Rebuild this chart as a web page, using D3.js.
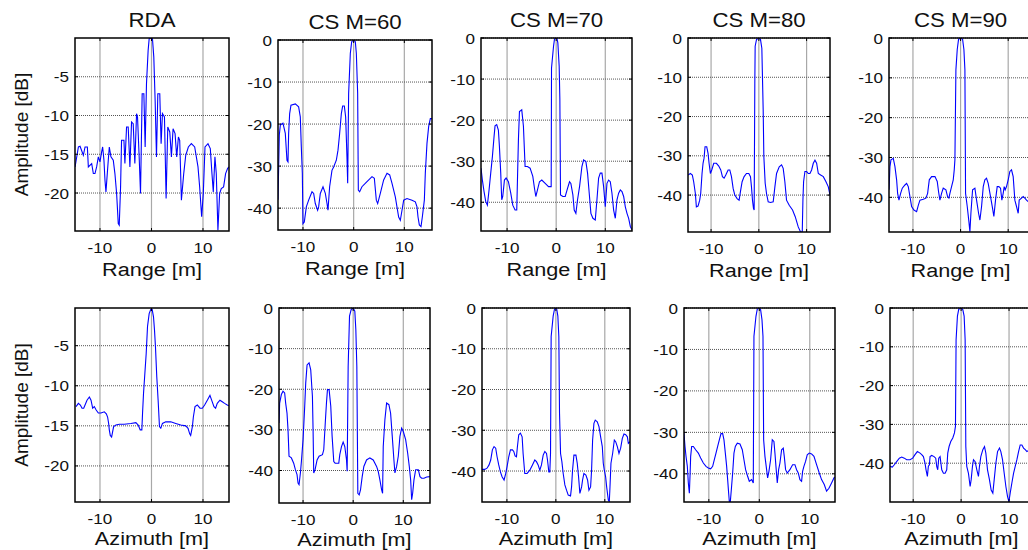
<!DOCTYPE html>
<html>
<head>
<meta charset="utf-8">
<script src="https://cdn.jsdelivr.net/npm/d3@7"></script>
<style>
  html, body { margin: 0; padding: 0; background: #fff; }
  svg { display: block; font-family: "Liberation Sans", Arial, sans-serif; }
</style>
</head>
<body>
<div id="chart"></div>
<script>
// ---- data ([position m, amplitude dB]) ----
const titles = ["RDA", "CS M=60", "CS M=70", "CS M=80", "CS M=90"];
const xLabels = ["Range [m]", "Azimuth [m]"];
const yLabel = "Amplitude [dB]";
const xTicks = [-10, 0, 10];
const yTicksRDA = [-20, -15, -10, -5];
const yTicksCS = [-40, -30, -20, -10, 0];

const rdaRange = [[-14.84,-16.63],[-14.19,-14.06],[-13.87,-13.97],[-13.23,-15.13],[-12.9,-14.06],[-12.45,-14.06],[-12.26,-16.63],[-11.61,-16.2],[-11.29,-17.49],[-10.97,-17.49],[-10.65,-16.63],[-10.32,-15.34],[-10,-15.99],[-9.68,-14.7],[-9.48,-14.06],[-9.23,-15.77],[-9.03,-18.35],[-8.84,-19.85],[-8.58,-17.49],[-8.39,-15.77],[-8.19,-14.06],[-7.87,-15.34],[-7.42,-15.77],[-7.1,-17.49],[-6.77,-20.06],[-6.45,-23.93],[-6.26,-24.14],[-6,-19.2],[-5.81,-13.2],[-5.35,-13.2],[-5.16,-16.2],[-4.84,-11.48],[-4.52,-11.48],[-4.19,-16.63],[-3.87,-10.84],[-3.55,-11.05],[-3.23,-16.2],[-2.9,-9.76],[-2.71,-10.19],[-2.39,-15.34],[-2.13,-20.06],[-1.81,-7.19],[-1.48,-7.19],[-1.23,-14.06],[-0.97,-5.9],[-0.65,-1.6],[-0.45,-0.1],[0,0],[0.19,-0.1],[0.45,-2.47],[0.71,-8.05],[0.97,-15.34],[1.23,-7.19],[1.61,-7.19],[1.87,-13.63],[2.13,-9.76],[2.52,-10.19],[2.84,-20.7],[3.16,-11.48],[3.55,-12.12],[3.87,-15.34],[4.19,-11.7],[4.58,-12.34],[4.9,-15.34],[5.23,-12.77],[5.48,-13.2],[5.81,-20.92],[6.26,-17.49],[6.65,-15.13],[7.16,-14.06],[7.74,-13.63],[8.39,-14.06],[9.03,-16.63],[9.35,-19.2],[9.74,-23.07],[10.06,-20.06],[10.39,-14.06],[10.97,-13.63],[11.42,-14.27],[11.74,-17.49],[12,-19.85],[12.32,-15.34],[12.58,-17.49],[12.9,-24.8],[13.23,-20.06],[13.55,-19.42],[14,-19.2],[14.39,-17.49],[14.77,-16.85],[15.03,-16.63]];

const cs60Range = [[-14.93,-38],[-14.67,-22.6],[-14.47,-20.2],[-13.95,-19.8],[-13.49,-22.2],[-13.16,-28.6],[-12.96,-29],[-12.83,-22.2],[-12.63,-17.5],[-12.37,-15.5],[-11.51,-15.2],[-10.86,-15.9],[-10.53,-18.3],[-10.33,-25.4],[-10.13,-31.7],[-10,-43.7],[-9.74,-43.3],[-9.34,-39.7],[-8.88,-38.1],[-8.22,-36.1],[-7.89,-36.5],[-7.57,-38.9],[-7.11,-40.5],[-6.91,-39.7],[-6.58,-36.5],[-6.05,-34.9],[-5.59,-36.5],[-5.26,-38.9],[-5.07,-40.5],[-4.74,-34.9],[-4.28,-31],[-3.95,-30.2],[-3.42,-28.6],[-3.09,-26.2],[-2.76,-22.2],[-2.43,-17.5],[-2.17,-15.7],[-1.84,-15.7],[-1.58,-18.3],[-1.32,-27.8],[-1.18,-34.1],[-0.99,-12.7],[-0.66,-3.2],[-0.39,-0.4],[0,0],[0.33,-0.4],[0.53,-3.2],[0.79,-12.7],[0.92,-35.7],[1.18,-36.1],[1.64,-34.9],[2.63,-33.7],[3.62,-32.5],[4.08,-32.9],[4.47,-38.1],[4.74,-38.9],[5.26,-36.5],[5.92,-33.3],[6.58,-31.7],[7.11,-32.1],[7.57,-34.1],[8.22,-37.3],[8.88,-42.1],[9.21,-42.9],[9.54,-40.5],[9.87,-38.1],[10.53,-37.7],[11.51,-38.1],[12.17,-38.5],[12.5,-39.7],[12.7,-42.1],[12.96,-44],[13.29,-44.4],[13.55,-42.1],[13.95,-38.1],[14.14,-31.7],[14.47,-24.6],[14.8,-20.6],[15.13,-18.7],[15.46,-18.7]];

const cs70Range = [[-15.31,-31.7],[-15.03,-34.6],[-14.69,-37.4],[-14.35,-39.8],[-14.01,-40.7],[-13.67,-37],[-13.33,-32.9],[-12.99,-28.9],[-12.65,-24],[-12.45,-21.4],[-12.11,-21.1],[-11.77,-22.4],[-11.56,-26.4],[-11.29,-32.9],[-11.09,-39.4],[-10.88,-38.6],[-10.54,-34.6],[-10.2,-34.1],[-9.73,-35],[-9.25,-37.8],[-8.84,-40.7],[-8.37,-41.9],[-8.03,-41.9],[-7.82,-31.3],[-7.69,-24.8],[-7.48,-17.9],[-7.01,-17.5],[-6.67,-21.5],[-6.33,-31.3],[-5.85,-31.3],[-5.31,-31.7],[-4.76,-33.7],[-4.42,-36.6],[-4.15,-38.6],[-3.81,-37],[-3.4,-35],[-2.93,-34.6],[-2.24,-35.4],[-1.56,-36.2],[-1.02,-36.2],[-0.95,-7.3],[-0.54,-2],[-0.34,-0.2],[0.14,0],[0.34,-1.2],[0.61,-6.9],[0.75,-15],[0.88,-38.2],[1.36,-38.6],[1.84,-38.6],[2.31,-36.6],[2.72,-35],[2.99,-35.4],[3.4,-38.2],[3.67,-41.9],[4.01,-42.7],[4.35,-39.4],[4.76,-36.2],[5.24,-31.3],[5.58,-29.7],[6.05,-30.1],[6.39,-32.9],[6.73,-37.8],[7.07,-42.7],[7.48,-43.9],[7.96,-44.3],[8.3,-39.4],[8.64,-34.1],[8.98,-32.9],[9.32,-32.9],[9.66,-36.2],[10,-41.1],[10.34,-35.4],[10.68,-34.6],[11.02,-35],[11.36,-37.8],[11.7,-41.9],[12.04,-43.9],[12.38,-39.4],[12.72,-37.8],[13.06,-37],[13.4,-37.4],[13.74,-38.6],[14.08,-41.1],[14.42,-42.7],[14.76,-43.9],[15.1,-45.9],[15.44,-46.7]];

const cs80Range = [[-14.83,-34.9],[-14.34,-34.5],[-13.92,-34.9],[-13.64,-36.6],[-13.29,-39.6],[-13.08,-43],[-12.73,-42.8],[-12.38,-41.3],[-12.17,-39.6],[-11.89,-34.5],[-11.68,-31.9],[-11.47,-30.6],[-11.26,-27.7],[-10.91,-27.7],[-10.63,-29.4],[-10.42,-31.9],[-10.14,-34.5],[-9.86,-33.6],[-9.44,-31.9],[-8.88,-31.9],[-8.39,-32.6],[-7.97,-33.6],[-7.62,-35.3],[-7.27,-35.7],[-6.92,-34.9],[-6.43,-33.6],[-6.08,-33.6],[-5.73,-35.3],[-5.38,-38.3],[-5.03,-40],[-4.55,-40.9],[-4.13,-41.3],[-3.85,-39.1],[-3.5,-36.6],[-3.08,-35.3],[-2.59,-34.5],[-2.1,-34.5],[-1.75,-35.3],[-1.54,-37.9],[-1.33,-41.3],[-1.12,-43.4],[-0.98,-43.8],[-0.84,-11.5],[-0.77,-2.1],[-0.49,-0.4],[0,0],[0.35,-0.4],[0.63,-2.6],[0.91,-18.3],[1.05,-30.2],[1.33,-37],[1.61,-39.6],[1.96,-41.7],[2.45,-41.9],[3.01,-41.7],[3.36,-37.9],[3.71,-34.5],[4.27,-32.8],[4.76,-32.3],[5.1,-33.2],[5.45,-36.6],[5.8,-41.3],[6.36,-42.6],[7.06,-43.8],[7.62,-45.5],[8.25,-48.1],[8.74,-49.4],[9.09,-49.4],[9.23,-41.3],[9.37,-36.6],[9.65,-34],[10,-34],[10.35,-34.5],[10.7,-34.5],[11.05,-33.6],[11.4,-31.9],[11.75,-31.1],[12.1,-31.9],[12.45,-34.5],[12.94,-34.9],[13.5,-35.3],[14.06,-36.6],[14.55,-37.9],[14.9,-40]];

const cs90Range = [[-15.03,-38.1],[-14.83,-32.3],[-14.62,-30.6],[-14.13,-30.2],[-13.78,-32.3],[-13.43,-35.6],[-13.22,-39],[-12.94,-40.7],[-12.59,-39],[-12.24,-37.7],[-11.68,-36.9],[-11.33,-36.5],[-10.98,-37.3],[-10.63,-39.8],[-10.28,-42.3],[-9.79,-43.2],[-9.23,-43.6],[-8.88,-42],[-8.53,-40.7],[-7.83,-40.5],[-7.27,-40.2],[-6.92,-39],[-6.57,-35.6],[-6.08,-34.8],[-5.38,-34.8],[-4.9,-36],[-4.62,-38.6],[-4.34,-40.7],[-3.99,-39],[-3.64,-37.7],[-3.08,-38.1],[-2.73,-39.8],[-2.45,-40.2],[-2.24,-39],[-1.89,-37.3],[-1.54,-35.6],[-1.33,-33.1],[-1.19,-30.6],[-0.98,-8],[-0.7,-2.9],[-0.42,-0.3],[0,0],[0.42,-0.3],[0.7,-2.9],[0.91,-8],[1.05,-39],[1.4,-42.3],[1.75,-46.1],[1.96,-48.6],[2.17,-44],[2.52,-38.1],[3.01,-37.7],[3.36,-40.7],[3.78,-44],[4.06,-45.7],[4.41,-42.3],[4.76,-37.3],[5.1,-35.6],[5.45,-35.2],[5.8,-36.5],[6.29,-39.8],[6.71,-42.7],[6.99,-44.8],[7.34,-40.7],[7.69,-37.3],[8.04,-37.3],[8.39,-37.7],[8.67,-40.7],[8.95,-39],[9.16,-37.3],[9.37,-38.1],[9.65,-37.3],[10,-35.6],[10.35,-33.5],[10.7,-33.1],[11.05,-34.8],[11.4,-40.7],[11.75,-42.3],[12.1,-44],[12.31,-40.7],[12.8,-40.2],[13.15,-39.8],[13.5,-40.2],[13.85,-40.7],[14.13,-41],[15,-41.5]];

const rdaAzimuth = [[-14.65,-12.6],[-14.19,-12.2],[-13.81,-12.4],[-13.48,-12.8],[-13.16,-12.8],[-12.9,-12.4],[-12.52,-11.8],[-12.06,-11.4],[-11.74,-11.8],[-11.42,-12.8],[-11.1,-12.6],[-10.77,-13],[-10.32,-13.4],[-9.81,-13.4],[-9.16,-13.25],[-8.77,-13.5],[-8.52,-13.9],[-8.32,-14.7],[-8.19,-15.5],[-8,-16.2],[-7.74,-16.4],[-7.55,-15.75],[-7.35,-15.1],[-6.9,-14.9],[-6.26,-14.8],[-5.29,-14.8],[-4,-14.7],[-3.03,-14.6],[-2.58,-14.9],[-2.19,-15.5],[-1.87,-15.5],[-1.74,-13.5],[-1.55,-11],[-1.29,-8.5],[-1.03,-6],[-0.77,-2.6],[-0.45,-1],[-0.13,-0.46],[0.13,-0.46],[0.39,-1.4],[0.58,-3],[0.77,-5.1],[1.03,-8.9],[1.29,-11.8],[1.55,-15.1],[1.81,-15.3],[2.13,-14.7],[2.77,-14.5],[3.74,-14.5],[4.71,-14.7],[5.68,-14.9],[6.65,-15],[7.1,-15.3],[7.42,-16],[7.61,-16.2],[7.94,-15.1],[8.13,-13.9],[8.45,-12.6],[8.9,-12.4],[9.42,-12.8],[9.87,-12.8],[10.32,-12.4],[10.84,-11.8],[11.35,-11.2],[11.68,-11.8],[12.13,-12.6],[12.45,-12.8],[12.77,-12.2],[13.29,-11.8],[13.74,-12],[14.19,-12.2],[14.71,-12.4],[15.05,-12.5]];

const cs60Azimuth = [[-14.8,-28.3],[-14.67,-23.4],[-14.33,-21.3],[-14,-20.5],[-13.67,-20.9],[-13.47,-23.4],[-13.2,-25.9],[-13,-30],[-12.8,-36.5],[-12.33,-36.9],[-11.87,-38.2],[-11.53,-39.8],[-11.2,-41],[-11,-43.1],[-10.8,-43.5],[-10.53,-40.6],[-10.33,-37.8],[-10,-32.4],[-9.67,-24.2],[-9.47,-18.5],[-9.2,-14],[-8.8,-13.5],[-8.47,-15.2],[-8.13,-21.8],[-8,-30],[-7.87,-40.6],[-7.6,-39.8],[-7.2,-37.4],[-6.8,-36.5],[-6.13,-36.1],[-5.87,-34.9],[-5.53,-27.5],[-5.33,-23.4],[-5.13,-20.1],[-4.8,-20.1],[-4.47,-24.2],[-4.2,-31.6],[-3.87,-37.8],[-3.6,-38.2],[-3.2,-38.2],[-2.87,-38.2],[-2.67,-36.1],[-2.33,-34.1],[-2,-33],[-1.67,-34.1],[-1.33,-37.4],[-1.2,-40.2],[-1,-14.4],[-0.73,-2],[-0.4,-0.4],[0,0],[0.33,-0.8],[0.53,-5.3],[0.73,-14.4],[0.93,-45.6],[1.2,-46],[1.47,-44.7],[1.8,-41.5],[2.13,-39],[2.67,-37.4],[3.33,-36.9],[4,-37.4],[4.67,-39],[5,-40.2],[5.33,-42.3],[5.67,-44.7],[5.87,-45.6],[6,-34.1],[6.33,-27.5],[6.67,-23.4],[7.13,-23.8],[7.47,-25.9],[7.8,-31.6],[8.13,-37.4],[8.33,-40.6],[8.67,-39],[9,-36.5],[9.33,-31.6],[9.67,-29.6],[10,-30.4],[10.47,-32.4],[10.87,-35.7],[11.2,-39],[11.47,-42.3],[11.67,-47.2],[11.87,-45.6],[12.13,-42.3],[12.47,-39.8],[13,-39.8],[13.33,-41.5],[13.67,-41.9],[14.13,-41.9],[14.67,-41.6],[15.33,-41.5]];

const cs70Azimuth = [[-15.09,-39.6],[-14.54,-39.6],[-14.06,-39.3],[-13.65,-38.5],[-13.31,-37.3],[-12.97,-34.8],[-12.63,-34],[-12.29,-34.4],[-12.01,-36.5],[-11.67,-38.5],[-11.33,-40.2],[-10.99,-41.4],[-10.58,-42.2],[-10.24,-40.6],[-9.97,-38.9],[-9.62,-36.5],[-9.28,-34.8],[-8.87,-34.8],[-8.6,-35.2],[-8.33,-36.3],[-8.05,-36.5],[-7.85,-34],[-7.58,-31.1],[-7.24,-30.7],[-6.89,-31.6],[-6.69,-35.7],[-6.35,-40.6],[-5.87,-40.6],[-5.32,-39.8],[-4.78,-38.5],[-4.3,-37.3],[-3.96,-37.7],[-3.62,-38.5],[-3.28,-39.8],[-2.94,-38.5],[-2.59,-36.1],[-2.25,-35.2],[-1.91,-35.7],[-1.71,-37.3],[-1.43,-40.2],[-1.23,-40.2],[-1.09,-35.7],[-0.96,-7],[-0.55,-2],[-0.27,-0.25],[0.14,0],[0.41,-2],[0.61,-7],[0.75,-25.8],[0.96,-35.7],[1.23,-37.7],[1.5,-40.6],[1.84,-43.4],[2.18,-44.7],[2.53,-45.9],[3,-46.1],[3.21,-43.9],[3.41,-39.8],[3.69,-36.1],[4.1,-36.1],[4.37,-38.1],[4.64,-41.4],[4.91,-45.5],[5.26,-43.9],[5.46,-42.2],[5.73,-40.6],[6.14,-41],[6.48,-42.2],[6.76,-44.7],[7.1,-43.9],[7.3,-39.8],[7.51,-32.4],[7.78,-28.3],[8.05,-27.5],[8.46,-27.9],[8.81,-29.1],[9.15,-31.6],[9.49,-34],[9.69,-38.1],[9.9,-39.8],[10.17,-41.4],[10.38,-43.9],[10.72,-47.1],[10.92,-47.5],[11.06,-43.9],[11.26,-38.1],[11.6,-35.7],[11.95,-32.4],[12.22,-32.8],[12.56,-34],[12.9,-35.7],[13.24,-34.4],[13.58,-32],[13.92,-30.9],[14.27,-31.1],[14.61,-31.6],[14.81,-33.2],[15.15,-32.8]];

const cs80Azimuth = [[-14.92,-30.2],[-14.72,-33.4],[-14.52,-35.8],[-14.26,-38.2],[-14.06,-42.2],[-13.86,-44.7],[-13.73,-40.6],[-13.6,-35.8],[-13.4,-33.4],[-13.07,-33.4],[-12.61,-34.2],[-12.08,-35],[-11.62,-36.2],[-11.09,-37.4],[-10.56,-38.2],[-10.1,-38.6],[-9.64,-38.8],[-9.24,-38.2],[-8.91,-36.6],[-8.58,-35],[-8.25,-33.4],[-7.92,-31.8],[-7.59,-30.3],[-7.26,-30.3],[-7,-31.8],[-6.73,-35],[-6.47,-38.2],[-6.27,-41.4],[-6.07,-44.7],[-5.94,-46.7],[-5.74,-46.7],[-5.54,-43.8],[-5.28,-39.8],[-5.02,-35],[-4.75,-33.4],[-4.36,-32.6],[-3.83,-32.8],[-3.37,-34.2],[-3.04,-36.6],[-2.71,-39],[-2.31,-40.6],[-1.98,-41.8],[-1.52,-41.4],[-1.19,-42.2],[-1.06,-6.8],[-0.66,-2],[-0.4,-0.25],[0,0],[0.26,-0.4],[0.53,-2.8],[0.73,-6.8],[0.86,-31.8],[1.12,-35.8],[1.45,-39],[1.65,-41],[1.91,-39.4],[2.24,-36.6],[2.57,-31.8],[2.9,-32.2],[3.1,-35],[3.3,-38.2],[3.56,-42.2],[3.83,-39],[4.09,-37.4],[4.42,-34.2],[4.75,-33.8],[4.95,-35.8],[5.21,-39],[5.54,-39.8],[6.07,-39],[6.6,-37.8],[7.06,-37.8],[7.39,-39],[7.72,-39.8],[8.05,-41.4],[8.38,-41.8],[8.58,-39.4],[8.84,-38.2],[9.17,-37],[9.5,-35.4],[9.9,-35],[10.36,-35.2],[10.83,-35.8],[11.35,-37.8],[11.88,-39.8],[12.34,-41.4],[12.87,-42.6],[13.33,-44.2],[13.8,-43.5],[14.32,-42.2],[14.79,-41],[14.98,-40.8]];

const cs90Azimuth = [[-14.84,-40.8],[-14.36,-41],[-13.94,-40.4],[-13.45,-39.6],[-12.89,-38.7],[-12.4,-38.4],[-11.85,-38.7],[-11.36,-39.1],[-10.66,-39.1],[-10.1,-38.7],[-9.62,-37.8],[-9.13,-37],[-8.57,-37.4],[-8.22,-37.8],[-7.87,-38.3],[-7.53,-40],[-7.32,-41.7],[-7.04,-43.4],[-6.83,-40.8],[-6.62,-40.4],[-6.48,-38.3],[-6.13,-38],[-5.64,-38.3],[-5.3,-38.7],[-5.09,-40.8],[-4.88,-41.7],[-4.67,-38.7],[-4.39,-38.3],[-4.04,-41.7],[-3.69,-42.6],[-3.34,-42.6],[-3,-41.7],[-2.79,-37.4],[-2.51,-35.7],[-2.16,-34.4],[-1.74,-33.5],[-1.39,-32.2],[-1.18,-30.5],[-1.05,-8.2],[-0.77,-2.1],[-0.49,-0.3],[0,0],[0.35,-0.4],[0.63,-2.1],[0.84,-8.2],[0.98,-35.7],[1.18,-40.8],[1.53,-42.6],[1.88,-46],[2.09,-44.3],[2.37,-40.8],[2.58,-39.1],[2.93,-39.6],[3.28,-41.7],[3.62,-43.4],[3.83,-40.8],[4.11,-38.3],[4.53,-36.5],[4.88,-35.7],[5.16,-37.4],[5.51,-41.7],[5.92,-44.3],[6.27,-46.9],[6.62,-47.7],[6.9,-44.3],[7.25,-40],[7.6,-37],[8.01,-36.1],[8.29,-37],[8.64,-39.1],[8.99,-42.6],[9.34,-46],[9.69,-48.6],[9.97,-49.9],[10.24,-47.7],[10.59,-45.1],[10.94,-42.6],[11.29,-40.8],[11.64,-39.1],[11.99,-37],[12.33,-35.3],[12.68,-35.3],[13.03,-36.1],[13.38,-36.5],[13.73,-37],[14.01,-36.8],[15,-36.5]];

const seriesTop = [rdaRange, cs60Range, cs70Range, cs80Range, cs90Range];
const seriesBottom = [rdaAzimuth, cs60Azimuth, cs70Azimuth, cs80Azimuth, cs90Azimuth];

// axis limits per panel (as seen in the figure)
const xLimTop = [[-14.85,15.05],[-14.93,15.46],[-15.31,15.44],[-14.83,14.9],[-15.03,15]];
const xLimBottom = [[-14.85,15.05],[-14.8,15.33],[-15.09,15.15],[-14.92,15],[-14.84,15]];
const yLimTop = [[-24.9,0],[-45.2,0],[-47,0],[-49.4,0],[-48.7,0]];
const yLimBottom = [[-24.5,-0.3],[-48,0],[-47.6,0],[-46.8,0],[-50,0]];

// ---- layout ----
const W = 1028, H = 550;
const boxTop = [[75,229,38,231],[278,432,40,230],[481,632,38,231],[688,830,38,232],[889,1032,38,232]];
const boxBottom = [[75,229,308,502],[279,430,308,503],[482,630,308,502],[684,835,308,502],[890,1033,308,502]];
const labelOffset = [44.5, 42.5];   // x-label baseline below the box, per row
const stretch = 1.14;   // text in the figure is a bit wider than normal
const tickLen = 3;

const svg = d3.select("#chart").append("svg")
    .attr("width", W).attr("height", H);

function addText(g, x, y, txt, size, anchor) {
    return g.append("text")
        .attr("transform", `translate(${x},${y}) scale(${stretch},1)`)
        .attr("text-anchor", anchor || "middle")
        .style("font-size", size + "px")
        .attr("fill", "#111")
        .text(txt);
}

function drawPanel(idx, data, box, xLim, yLim, yTicks, title, xLabel, labOff) {
    const [x0, x1, y0, y1] = box;
    const x = d3.scaleLinear().domain(xLim).range([x0, x1]);
    const y = d3.scaleLinear().domain(yLim).range([y1, y0]);
    const g = svg.append("g");

    const clipId = "clip" + idx;
    svg.append("clipPath").attr("id", clipId)
        .append("rect").attr("x", x0).attr("y", y0).attr("width", x1 - x0).attr("height", y1 - y0);

    // grid
    g.selectAll(".vgrid").data(xTicks).enter().append("line")
        .attr("x1", d => x(d)).attr("x2", d => x(d)).attr("y1", y0).attr("y2", y1)
        .attr("stroke", "#a8a8a8").attr("stroke-width", 1.2);
    g.selectAll(".hgrid").data(yTicks).enter().append("line")
        .attr("x1", x0).attr("x2", x1).attr("y1", d => y(d)).attr("y2", d => y(d))
        .attr("stroke", "#555").attr("stroke-width", 1).attr("stroke-dasharray", "1,1");

    // curve
    const line = d3.line().x(d => x(d[0])).y(d => y(d[1]));
    g.append("path").datum(data)
        .attr("clip-path", `url(#${clipId})`)
        .attr("d", line)
        .attr("fill", "none").attr("stroke", "#0000ff").attr("stroke-width", 1.1);

    // ticks inward on all sides
    xTicks.forEach(t => {
        g.append("line").attr("x1", x(t)).attr("x2", x(t)).attr("y1", y1).attr("y2", y1 - tickLen)
            .attr("stroke", "#000");
        g.append("line").attr("x1", x(t)).attr("x2", x(t)).attr("y1", y0).attr("y2", y0 + tickLen)
            .attr("stroke", "#000");
        addText(g, x(t), y1 + 21.5, t, 15);
    });
    yTicks.forEach(t => {
        g.append("line").attr("x1", x0).attr("x2", x0 + tickLen).attr("y1", y(t)).attr("y2", y(t))
            .attr("stroke", "#000");
        g.append("line").attr("x1", x1).attr("x2", x1 - tickLen).attr("y1", y(t)).attr("y2", y(t))
            .attr("stroke", "#000");
        addText(g, x0 - 6, y(t) + 5.5, t, 15, "end");
    });

    // box
    g.append("rect").attr("x", x0).attr("y", y0).attr("width", x1 - x0).attr("height", y1 - y0)
        .attr("fill", "none").attr("stroke", "#000").attr("stroke-width", 1.5);

    if (title) addText(g, (x0 + x1) / 2, y0 - 11, title, 19.5);
    addText(g, (x0 + x1) / 2, y1 + labOff, xLabel, 19);

    if (idx % 5 === 0) {
        g.append("text")
            .attr("transform", `translate(28,${(y0 + y1) / 2}) rotate(-90)`)
            .attr("text-anchor", "middle")
            .style("font-size", "19px")
            .attr("fill", "#111")
            .text(yLabel);
    }
}

seriesTop.forEach((s, i) => {
    drawPanel(i, s, boxTop[i], xLimTop[i], yLimTop[i], i === 0 ? yTicksRDA : yTicksCS, titles[i], xLabels[0], labelOffset[0]);
});
seriesBottom.forEach((s, i) => {
    drawPanel(5 + i, s, boxBottom[i], xLimBottom[i], yLimBottom[i], i === 0 ? yTicksRDA : yTicksCS, null, xLabels[1], labelOffset[1]);
});
</script>
</body>
</html>
